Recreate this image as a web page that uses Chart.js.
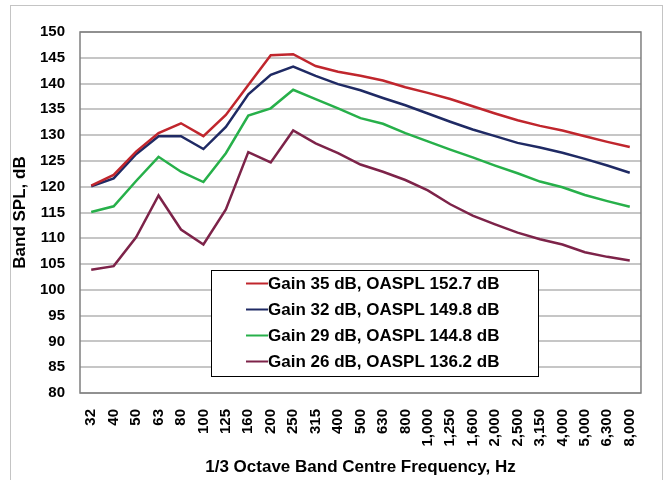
<!DOCTYPE html>
<html><head><meta charset="utf-8">
<script src="https://cdn.jsdelivr.net/npm/chart.js@4.4.1/dist/chart.umd.min.js"></script>
<style>html,body{margin:0;padding:0;background:#fff}#wrap{width:664px;height:480px}</style>
</head><body><div id="wrap"><canvas id="c" width="664" height="480"></canvas></div>
<script>
const frequencies = ["32","40","50","63","80","100","125","160","200","250","315","400","500","630","800","1,000","1,250","1,600","2,000","2,500","3,150","4,000","5,000","6,300","8,000"];
const seriesLabels = ["Gain 35 dB, OASPL 152.7 dB","Gain 32 dB, OASPL 149.8 dB","Gain 29 dB, OASPL 144.8 dB","Gain 26 dB, OASPL 136.2 dB"];
const gain35 = [120.2,122.3,126.8,130.4,132.3,129.8,133.9,139.7,145.5,145.7,143.4,142.3,141.5,140.6,139.3,138.2,137.0,135.6,134.2,132.9,131.8,130.9,129.8,128.7,127.7];
const gain32 = [120.1,121.6,126.3,129.8,129.8,127.3,131.6,137.9,141.7,143.3,141.5,139.9,138.7,137.2,135.8,134.2,132.6,131.1,129.8,128.5,127.6,126.6,125.4,124.1,122.7];
const gain29 = [115.1,116.2,121.1,125.8,122.9,120.9,126.5,133.8,135.2,138.8,137.0,135.2,133.3,132.2,130.4,128.8,127.2,125.7,124.1,122.6,121.0,119.9,118.4,117.2,116.1];
const gain26 = [103.9,104.6,110.2,118.3,111.7,108.8,115.6,126.7,124.7,130.9,128.4,126.5,124.3,122.9,121.3,119.3,116.6,114.4,112.7,111.1,109.8,108.8,107.3,106.4,105.7];
const yTicks = {min:80, max:150, step:5};
const colors = ["#C0262D","#1F2A64","#27B04A","#7D2349"];
const FONT = '"Liberation Sans", Arial, sans-serif';

const frame = {
  id:'frame',
  beforeDraw(chart){
    const ctx = chart.ctx;
    ctx.save();
    ctx.fillStyle = '#fff';
    ctx.fillRect(0,0,chart.width,chart.height);
    ctx.strokeStyle = '#C4C4C4';
    ctx.lineWidth = 1;
    ctx.strokeRect(10.5,5.5,652,490);
    ctx.restore();
  },
  afterDatasetsDraw(chart){
    const ctx = chart.ctx, a = chart.chartArea;
    ctx.save();
    ctx.strokeStyle = '#7F7F7F';
    ctx.lineWidth = 1.5;
    ctx.strokeRect(a.left, a.top, a.right-a.left, a.bottom-a.top);
    // legend box
    const x0 = 211, y0 = 270, w = 327, h = 106;
    ctx.fillStyle = '#fff';
    ctx.fillRect(x0, y0, w, h);
    ctx.strokeStyle = '#000';
    ctx.lineWidth = 1;
    ctx.strokeRect(x0+0.5, y0+0.5, w, h);
    ctx.font = 'bold 17px ' + FONT;
    ctx.textBaseline = 'middle';
    ctx.textAlign = 'left';
    chart.data.datasets.forEach((ds,i)=>{
      const y = y0 + 13.5 + i*26;
      ctx.strokeStyle = ds.borderColor;
      ctx.lineWidth = 2;
      ctx.beginPath(); ctx.moveTo(246,y); ctx.lineTo(268,y); ctx.stroke();
      ctx.fillStyle = '#000';
      ctx.fillText(ds.label, 268, y+1);
    });
    ctx.restore();
  }
};

const seriesData = [gain35, gain32, gain29, gain26];
new Chart(document.getElementById('c'), {
  type:'line',
  data:{
    labels: frequencies,
    datasets: seriesData.map((d,i)=>({
      label: seriesLabels[i], data: d, borderColor: colors[i], backgroundColor: colors[i],
      borderWidth: 2.5, pointRadius: 0, tension: 0, fill:false
    }))
  },
  options:{
    responsive:false, animation:false,
    layout:{padding:{left:10, top:32, right:12, bottom:2}},
    plugins:{legend:{display:false}, tooltip:{enabled:false}},
    scales:{
      x:{
        offset:true,
        grid:{display:false, drawTicks:false},
        border:{display:false},
        ticks:{minRotation:90, maxRotation:90, autoSkip:false, padding:16, color:'#000',
          font:{family:FONT, size:15, weight:'bold'}},
        title:{display:true, text:'1/3 Octave Band Centre Frequency, Hz', color:'#000',
          font:{family:FONT, size:17, weight:'bold'}, padding:{top:0,bottom:0}},
        afterFit(s){ s.height = 85; }
      },
      y:{
        min:yTicks.min, max:yTicks.max,
        grid:{color:'#C6C6C6', lineWidth:2, drawTicks:false},
        border:{display:false},
        ticks:{stepSize:yTicks.step, padding:15, color:'#000',
          font:{family:FONT, size:15, weight:'bold'}},
        title:{display:true, text:'Band SPL, dB', color:'#000',
          font:{family:FONT, size:17, weight:'bold'}, padding:{top:0,bottom:0}},
        afterFit(s){ s.width = 70; }
      }
    }
  },
  plugins:[frame]
});
</script></body></html>
